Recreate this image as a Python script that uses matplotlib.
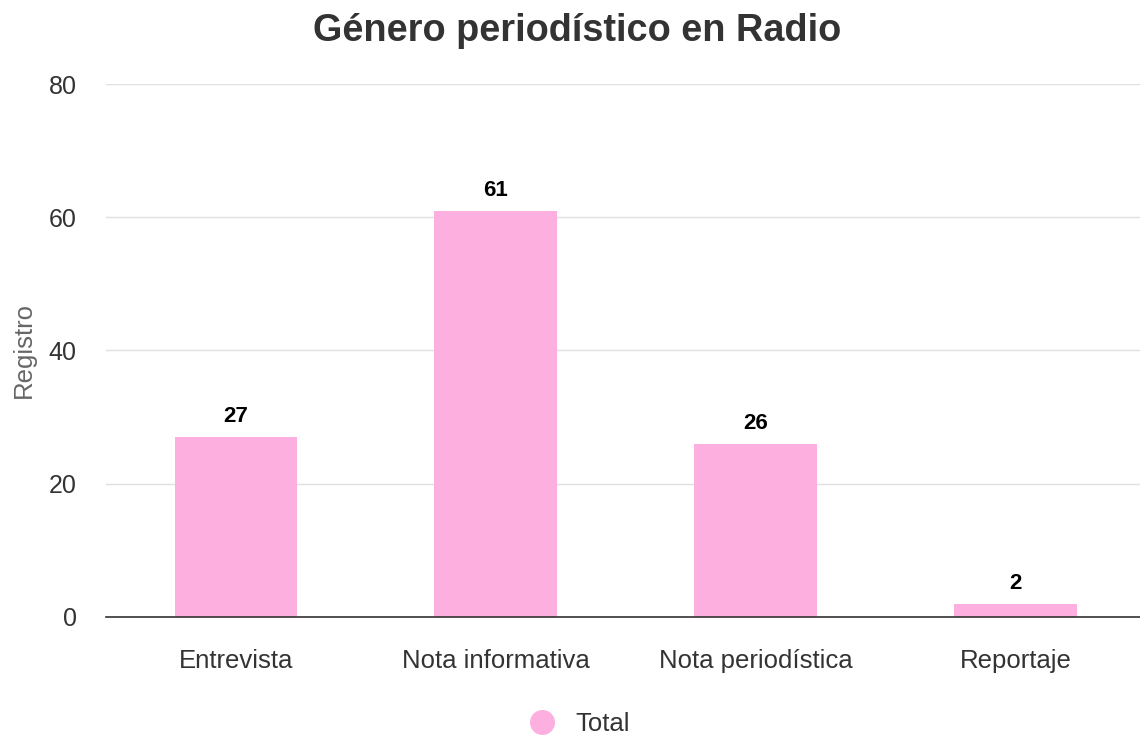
import matplotlib.pyplot as plt
import matplotlib
from matplotlib.lines import Line2D

matplotlib.rcParams['font.family'] = ['Liberation Sans', 'DejaVu Sans']

# data
categories = ['Entrevista', 'Nota informativa', 'Nota periodística', 'Reportaje']
totals = [27, 61, 26, 2]
y_ticks = [0, 20, 40, 60, 80]

bar_color = '#FDAFE0'

fig = plt.figure(figsize=(11.4, 7.37), dpi=100)
ax = fig.add_axes([0.093, 0.163, 0.912, 0.723])

x = range(len(categories))
bars = ax.bar(x, totals, width=0.473, color=bar_color, zorder=3)

for bar, val in zip(bars, totals):
    ax.annotate(str(val), (bar.get_x() + bar.get_width() / 2, val),
                xytext=(0, 7), textcoords='offset points',
                ha='center', va='bottom', fontsize=16, fontweight='bold', color='black')

ax.set_xlim(-0.5, len(categories) - 0.5)
ax.set_ylim(0, 80)
ax.set_yticks(y_ticks)
ax.set_xticks(list(x))
ax.set_xticklabels(categories)
ax.tick_params(axis='both', length=0, labelsize=18, colors='#333333')
ax.tick_params(axis='x', labelsize=18.5, pad=23)
ax.tick_params(axis='y', pad=21)

ax.grid(True, axis='y', color='#e0e0e0', linewidth=1, zorder=0)
for side in ['top', 'right', 'left']:
    ax.spines[side].set_visible(False)
ax.spines['bottom'].set_color('#333333')
ax.spines['bottom'].set_linewidth(1.2)
ax.spines['bottom'].set_zorder(4)

ax.set_ylabel('Registro', fontsize=18.5, color='#666666', labelpad=9)

fig.suptitle('Género periodístico en Radio', fontsize=27.3, fontweight='bold',
             color='#333333', x=0.506, y=0.983)

handle = Line2D([], [], marker='o', linestyle='none', markersize=17,
                markerfacecolor=bar_color, markeredgecolor=bar_color)
fig.legend([handle], ['Total'], loc='center', bbox_to_anchor=(0.503, 0.018),
           frameon=False, fontsize=18.5, handletextpad=0.3, labelcolor='#333333')

fig.savefig('out.png', dpi=100)
